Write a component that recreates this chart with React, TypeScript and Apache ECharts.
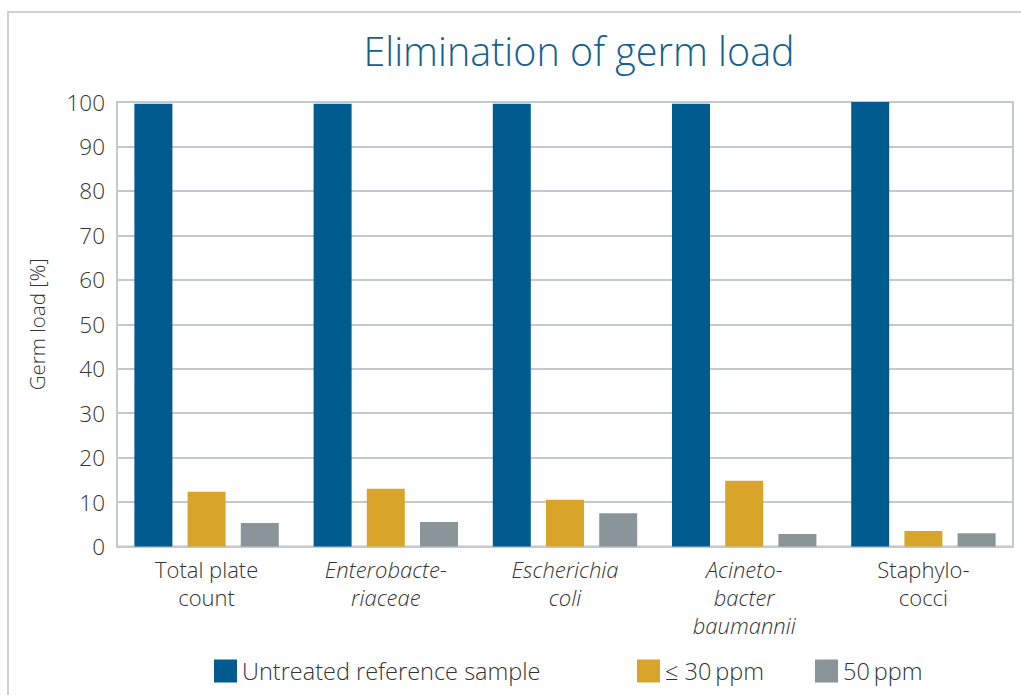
import React, { useEffect, useRef } from "react";
import * as echarts from "echarts";

const categories = [
  "Total plate\ncount",
  "Enterobacte-\nriaceae",
  "Escherichia\ncoli",
  "Acineto-\nbacter\nbaumannii",
  "Staphylo-\ncocci",
];
const italicCats = [false, true, true, true, false];
const seriesNames = ["Untreated reference sample", "\u2264 30\u2009ppm", "50\u2009ppm"];
const untreated = [99.6, 99.6, 99.6, 99.6, 100];
const ppm30 = [12.3, 13.0, 10.5, 14.8, 3.5];
const ppm50 = [5.3, 5.5, 7.5, 2.8, 3.0];
const colors = ["#005c8f", "#d8a52a", "#8a9599"];

const FONT = "'Open Sans'";

export default function App() {
  const ref = useRef<HTMLDivElement>(null);
  useEffect(() => {
    document.body.style.margin = "0";
    const chart = echarts.init(ref.current!, null, { renderer: "svg" });
    const gridLine = "#c3c9cd";
    const mkLegend = (name: string, left: number) => ({
      data: [name],
      left,
      top: 654,
      itemWidth: 23,
      itemHeight: 23,
      icon: "rect",
      itemGap: 8,
      textStyle: { fontFamily: FONT, fontSize: 23.5, fontWeight: 300, color: "#333" },
    });
    chart.setOption({
      animation: false,
      title: {
        text: "Elimination of germ load",
        left: 574,
        textAlign: "center",
        top: 26,
        textStyle: { fontFamily: FONT, fontSize: 39.5, fontWeight: 300, color: "#15608f" },
      },
      graphic: [
        {
          type: "rect",
          shape: { x: 8, y: 12, width: 1100, height: 800 },
          style: { fill: "none", stroke: "#cdd2d5", lineWidth: 2 },
          silent: true,
        },
      ],
      legend: [mkLegend(seriesNames[0], 209), mkLegend(seriesNames[1], 632), mkLegend(seriesNames[2], 810)],
      grid: {
        left: 117,
        right: 8,
        top: 102,
        bottom: 148.5,
        show: true,
        borderColor: gridLine,
        borderWidth: 2,
        containLabel: false,
      },
      xAxis: {
        type: "category",
        data: categories,
        axisLine: { show: true, lineStyle: { color: gridLine, width: 2 } },
        axisTick: { show: false },
        axisLabel: {
          interval: 0,
          margin: 8,
          formatter: (v: string) => {
            const idx = categories.indexOf(v);
            const tag = italicCats[idx] ? "i" : "n";
            return v
              .split("\n")
              .map((l) => `{${tag}|${l}}`)
              .join("\n");
          },
          rich: {
            n: { fontFamily: FONT, fontSize: 22, fontWeight: 300, color: "#333", lineHeight: 28 },
            i: { fontFamily: FONT, fontSize: 22, fontWeight: 300, fontStyle: "italic", color: "#333", lineHeight: 28 },
          },
        },
      },
      yAxis: {
        type: "value",
        min: 0,
        max: 100,
        interval: 10,
        name: "Germ load [%]",
        nameLocation: "middle",
        nameGap: 70,
        nameTextStyle: { fontFamily: FONT, fontSize: 20.5, fontWeight: 300, color: "#333" },
        axisLine: { show: true, lineStyle: { color: gridLine, width: 2 } },
        axisTick: { show: false },
        splitLine: { show: true, lineStyle: { color: gridLine, width: 2 } },
        axisLabel: { fontFamily: FONT, fontSize: 22.5, fontWeight: 300, color: "#333", margin: 12 },
      },
      series: [
        { name: seriesNames[0], type: "bar", data: untreated, barWidth: 38, barGap: "40%", itemStyle: { color: colors[0] } },
        { name: seriesNames[1], type: "bar", data: ppm30, barWidth: 38, barGap: "40%", itemStyle: { color: colors[1] } },
        { name: seriesNames[2], type: "bar", data: ppm50, barWidth: 38, barGap: "40%", itemStyle: { color: colors[2] } },
      ],
    });
    return () => chart.dispose();
  }, []);
  return <div ref={ref} style={{ width: 1021, height: 695 }} />;
}
